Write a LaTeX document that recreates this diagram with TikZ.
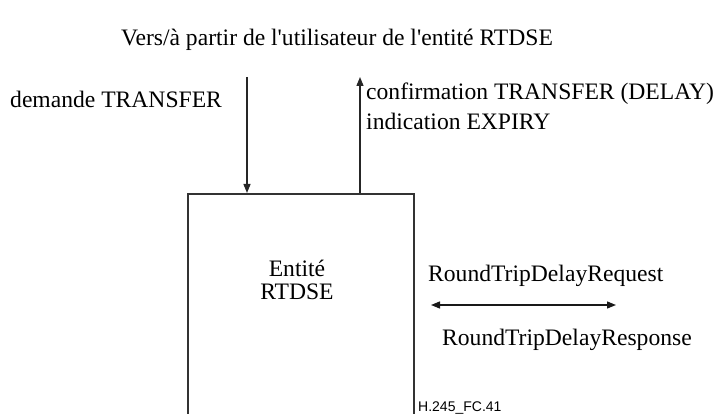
\documentclass[tikz,border=0pt]{standalone}
\usepackage{fontspec}
\setmainfont{Liberation Serif}
\newfontfamily\labelsans{Liberation Sans}
\usetikzlibrary{arrows.meta}
\begin{document}
\begin{tikzpicture}[x=1pt,y=-1pt,
  lbl/.style={inner sep=0pt, font=\fontsize{23.6}{27}\selectfont},
  arr/.style={line width=1.3pt, draw=black!85, -{Triangle[length=9pt,width=7pt]}},
  dblarr/.style={line width=1.3pt, draw=black!90, {Triangle[length=9pt,width=7pt]}-{Triangle[length=9pt,width=7pt]}},
  entbox/.style={draw=black!80, line width=1.6pt, minimum width=226pt, minimum height=240pt, anchor=north west, inner sep=0pt}]
\useasboundingbox (0,0) rectangle (728,414);
\begin{scope}
\clip (0,0) rectangle (728,414);
\node[entbox] (ent) at (187,193) {};
\end{scope}
\node[lbl, anchor=base] (title) at (337,46) {Vers/à partir de l\textquotesingle utilisateur de l\textquotesingle entité RTDSE};
\node[lbl, anchor=base west] (dem) at (10,108) {demande TRANSFER};
\node[lbl, anchor=base west] (conf) at (366,100) {confirmation TRANSFER (DELAY)};
\node[lbl, anchor=base west] (ind) at (366,130) {indication EXPIRY};
\node[lbl, anchor=base] (entl) at (297,276) {Entité};
\node[lbl, anchor=base] (rtd) at (297,299) {RTDSE};
\node[lbl, anchor=base west] (req) at (428,281) {RoundTripDelayRequest};
\node[lbl, anchor=base west] (resp) at (442,345) {RoundTripDelayResponse};
\node[inner sep=0pt, anchor=base west, font=\labelsans\fontsize{14}{16}\selectfont] (fig) at (418,411) {H.245\_FC.41};
\coordinate (dtop) at (247,77);
\coordinate (utop) at (360,77);
\coordinate (rl) at (431,305);
\coordinate (rr) at (616,305);
\draw[arr] (dtop) -- (dtop |- ent.north);
\draw[arr] (ent.north -| utop) -- (utop);
\draw[dblarr] (rl) -- (rr);
\end{tikzpicture}
\end{document}
